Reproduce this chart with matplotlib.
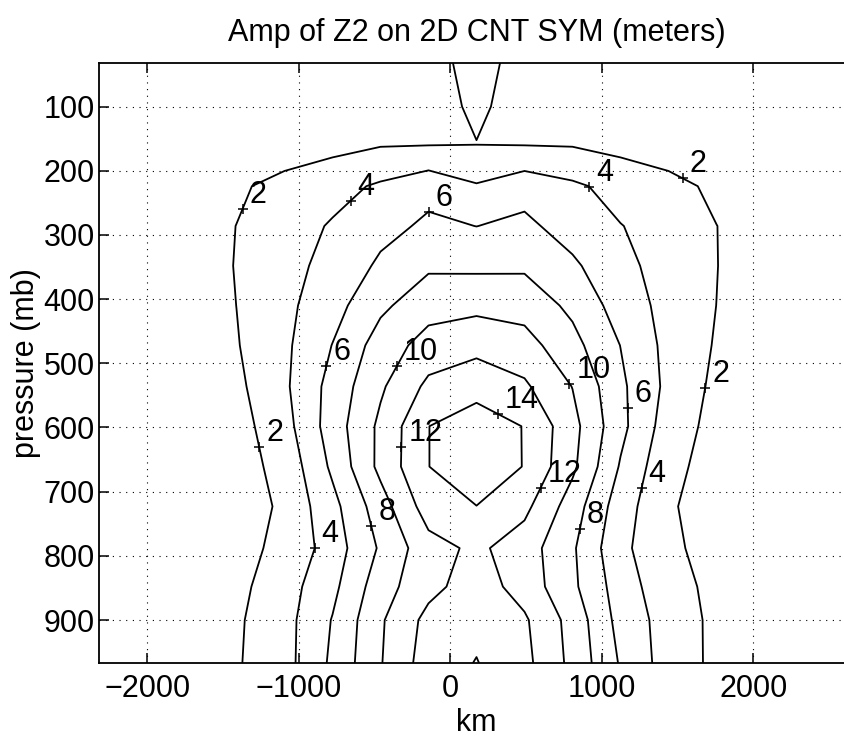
import matplotlib
matplotlib.use("Agg")
import matplotlib.pyplot as plt
import numpy as np
from matplotlib.transforms import ScaledTranslation

plt.rcParams['font.family'] = ['Liberation Sans', 'DejaVu Sans']

# ---------------- data ----------------
x_km = [-2363, -2046, -1729, -1412, -1095, -778, -461, -144, 173,
        490, 807, 1124, 1441, 1758, 2075, 2392, 2709]
pressure_mb = [32, 100, 158, 224, 286, 348, 410, 472, 536,
               598, 661, 723, 788, 848, 900, 967]

amp_p032 = [0.3, 0.3, 0.4, 0.5, 0.6, 0.7, 0.8, 0.96, 3.0, 0.96, 0.8, 0.7, 0.6, 0.5, 0.4, 0.3, 0.3]
amp_p100 = [0.3, 0.3, 0.4, 0.5, 0.6, 0.8, 1.0, 1.07, 2.4, 1.07, 1.0, 0.8, 0.6, 0.5, 0.4, 0.3, 0.3]
amp_p158 = [0.3, 0.3, 0.4, 0.5, 0.72, 1.36, 1.83, 1.88, 1.956, 1.884, 1.83, 1.36, 0.72, 0.5, 0.4, 0.3, 0.3]
amp_p224 = [0.3, 0.4, 0.6, 1.66, 2.72, 3.36, 4.27, 5.27, 4.15, 5.19, 4.33, 3.36, 2.72, 1.54, 0.6, 0.4, 0.3]
amp_p286 = [0.4, 0.6, 1.0, 2.02, 3.17, 4.17, 5.24, 6.41, 5.98, 6.46, 5.1, 4.05, 3.34, 2.02, 1.0, 0.6, 0.4]
amp_p348 = [0.3, 0.4, 0.67, 2.1, 3.78, 4.21, 6.42, 7.7, 7.62, 7.7, 6.36, 4.47, 3.32, 2.05, 0.5, 0.4, 0.3]
amp_p410 = [0.3, 0.4, 0.5, 2.01, 3.51, 5.25, 7.6, 9.2, 9.5, 9.2, 7.56, 5.12, 3.34, 1.99, 0.5, 0.4, 0.3]
amp_p472 = [0.3, 0.4, 0.5, 1.88, 3.61, 6.05, 8.9, 10.8, 11.4, 10.8, 8.64, 5.97, 3.41, 1.84, 0.5, 0.4, 0.3]
amp_p536 = [0.3, 0.35, 0.4, 1.56, 3.67, 6.7, 9.7, 12.45, 13.3, 12.3, 9.95, 6.4, 3.5, 1.55, 0.4, 0.35, 0.3]
amp_p598 = [0.3, 0.35, 0.4, 1.23, 3.26, 6.96, 10.43, 13.98, 15.0, 13.93, 10.66, 6.57, 3.0, 1.39, 0.4, 0.35, 0.3]
amp_p661 = [0.3, 0.35, 0.4, 1.22, 2.61, 6.38, 10.53, 13.98, 15.0, 13.94, 10.41, 5.81, 2.46, 1.36, 0.4, 0.35, 0.3]
amp_p723 = [0.3, 0.35, 0.4, 0.8, 2.4, 5.38, 9.09, 12.98, 13.98, 12.52, 9.02, 4.93, 2.3, 0.8, 0.4, 0.35, 0.3]
amp_p788 = [0.3, 0.4, 0.6, 1.58, 2.33, 4.98, 8.26, 11.26, 12.4, 10.97, 8.28, 4.43, 2.63, 0.83, 0.4, 0.35, 0.3]
amp_p848 = [0.3, 0.4, 0.6, 1.49, 3.13, 5.49, 9.13, 11.4, 13.0, 11.18, 8.41, 5.02, 2.7, 1.53, 0.5, 0.4, 0.3]
amp_p900 = [0.3, 0.4, 0.6, 1.73, 3.3, 6.1, 9.75, 12.6, 13.5, 12.27, 9.28, 5.28, 3.15, 1.53, 0.5, 0.4, 0.3]
amp_p967 = [0.3, 0.4, 0.7, 1.82, 3.29, 6.37, 9.875, 13.0, 14.08, 12.56, 9.46, 5.81, 3.07, 1.58, 0.5, 0.4, 0.3]

contour_levels = [2, 4, 6, 8, 10, 12, 14]
x_ticks = [-2000, -1000, 0, 1000, 2000]
p_ticks = [100, 200, 300, 400, 500, 600, 700, 800, 900]

# approximate spots (km, mb) where the contour labels sit
label_spots = [(-1383, 258), (-668, 244), (-140, 261), (921, 224), (1533, 212),
               (-828, 504), (-366, 502), (-1257, 630), (-333, 630), (-520, 754),
               (-894, 788), (316, 578), (778, 533), (1174, 569), (1680, 539),
               (584, 693), (1251, 694), (833, 757)]

# ---------------- figure ----------------
amp = np.array([amp_p032, amp_p100, amp_p158, amp_p224, amp_p286, amp_p348,
                amp_p410, amp_p472, amp_p536, amp_p598, amp_p661, amp_p723,
                amp_p788, amp_p848, amp_p900, amp_p967])
X, P = np.meshgrid(x_km, pressure_mb)

FS = 22

fig = plt.figure(figsize=(8.44, 7.38), dpi=100)
ax = fig.add_axes([99 / 844, 75 / 738, 755 / 844, 600 / 738])

ax.set_xlim(-2320, 2666)
ax.set_ylim(967, 32)

ax.set_xticks(x_ticks)
ax.set_yticks(p_ticks)
ax.grid(True, color='k', linestyle=(0, (1, 5)), linewidth=0.8)
ax.set_axisbelow(True)

cs = ax.contour(X, P, amp, levels=contour_levels, colors='k', linewidths=1.3)

texts = ax.clabel(cs, fmt='%1.0f', manual=label_spots, inline=False,
                  fontsize=FS, colors='k')
px, py = [], []
offset = ScaledTranslation(0.07, 0.06, fig.dpi_scale_trans)
for t in texts:
    xx, yy = t.get_position()
    px.append(xx)
    py.append(yy)
    t.set_rotation(0)
    t.set_ha('left')
    t.set_va('baseline')
    t.set_transform(ax.transData + offset)
    t.set_clip_on(False)
ax.plot(px, py, '+', color='k', ms=7, mew=1.1, zorder=5)

ax.tick_params(direction='in', length=7, width=1.1, top=True, right=True,
               labelsize=FS)
ax.tick_params(axis='x', pad=8)
ax.tick_params(axis='y', pad=3)
for s in ax.spines.values():
    s.set_linewidth(1.3)

ax.set_xlabel('km', fontsize=FS, labelpad=3)
ax.set_ylabel('pressure (mb)', fontsize=FS, labelpad=2)
ax.set_title('Amp of Z2 on 2D CNT SYM (meters)', fontsize=FS, pad=16)

fig.savefig('out.png', dpi=100)
